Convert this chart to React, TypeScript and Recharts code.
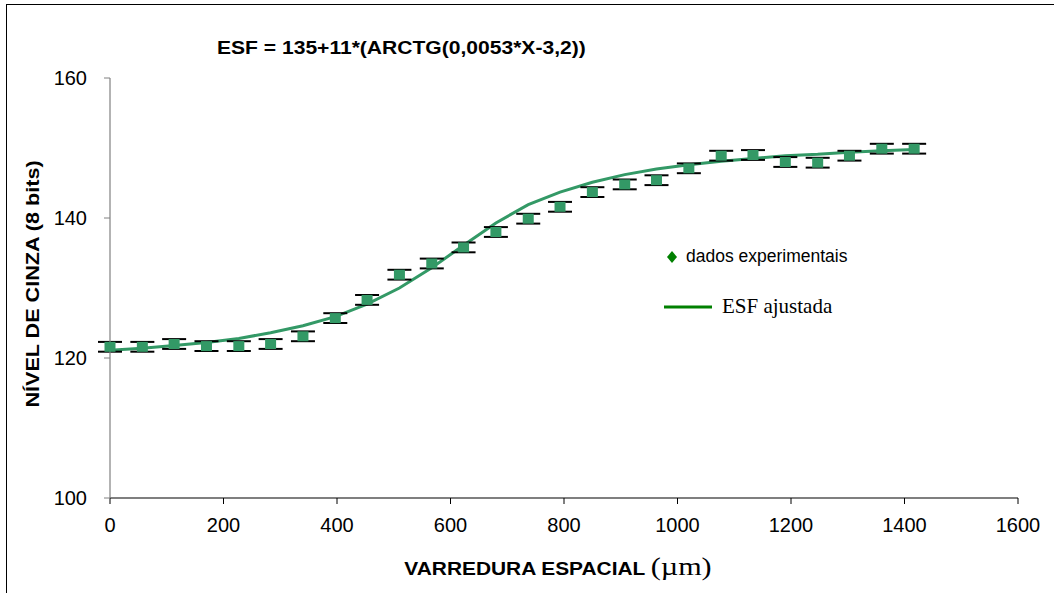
import React from "react";
import {
  ComposedChart,
  Line,
  Scatter,
  ErrorBar,
  XAxis,
  YAxis,
  Legend,
} from "recharts";

// Spatial scan positions (µm)
const positions = [
  0, 57, 113, 170, 227, 283, 340, 397, 453, 510, 567, 623, 680, 737, 793, 850,
  907, 963, 1020, 1077, 1133, 1190, 1247, 1303, 1360, 1417,
];
// Experimental grey levels
const measured = [
  121.6, 121.6, 122.0, 121.7, 121.7, 122.0, 123.1, 125.7, 128.3, 131.9, 133.5,
  135.8, 138.0, 139.9, 141.6, 143.7, 144.8, 145.4, 147.1, 148.9, 149.0, 148.0,
  147.9, 148.9, 149.9, 149.9,
];
// Error bar half-widths
const errors = [
  0.7, 0.7, 0.7, 0.7, 0.7, 0.7, 0.7, 0.7, 0.7, 0.7, 0.7, 0.7, 0.7, 0.7, 0.7,
  0.7, 0.7, 0.7, 0.7, 0.7, 0.7, 0.7, 0.7, 0.7, 0.7, 0.7,
];
// Fitted ESF curve values read at each position
const fitted = [
  121.1, 121.4, 121.8, 122.2, 122.8, 123.6, 124.6, 125.9, 127.7, 130.0, 132.9,
  136.1, 139.3, 141.9, 143.7, 145.1, 146.2, 147.0, 147.6, 148.1, 148.5, 148.9,
  149.1, 149.4, 149.6, 149.8,
];

const xTicks = [0, 200, 400, 600, 800, 1000, 1200, 1400, 1600];
const yTicks = [100, 120, 140, 160];

const titleText = "ESF = 135+11*(ARCTG(0,0053*X-3,2))";
const yTitle = "NÍVEL DE CINZA (8 bits)";
const xTitle = "VARREDURA ESPACIAL";
const xUnit = "(µm)";
const legendData = "dados experimentais";
const legendFit = "ESF ajustada";

const data = positions.map((x, i) => ({
  x,
  y: measured[i],
  err: errors[i],
  fit: fitted[i],
}));

const MARKER = "#339966";
const SANS = "'Liberation Sans', Arial, sans-serif";
const SERIF = "'Liberation Serif', 'Times New Roman', serif";

const SquareShape = (props: any) => {
  const { cx, cy } = props;
  if (cx == null || cy == null) return null;
  return <rect x={cx - 5.5} y={cy - 5} width={11} height={10} fill={MARKER} />;
};

const LegendContent = () => (
  <svg width={240} height={80} style={{ position: "absolute", left: 0, top: 0, overflow: "visible" }}>
    <polygon points="8,0 13,6 8,12 3,6" fill="#008000" transform="translate(0,3)" />
    <text x={22} y={14} fontSize={17.5} fill="#000" fontFamily={SANS}>
      {legendData}
    </text>
    <line x1={0} y1={59} x2={48} y2={59} stroke="#008000" strokeWidth={3} />
    <text x={58} y={65} fontSize={21} fill="#000" fontFamily={SERIF}>
      {legendFit}
    </text>
  </svg>
);

export default function App() {
  return (
    <div
      style={{
        position: "absolute",
        left: 0,
        top: 0,
        width: 1054,
        height: 593,
        overflow: "hidden",
        background: "#fff",
      }}
    >
      <div
        style={{
          position: "absolute",
          left: 6,
          top: 4,
          width: 1200,
          height: 800,
          border: "1.5px solid #000",
        }}
      />
      <div
        style={{
          position: "absolute",
          left: 217,
          top: 38,
          fontFamily: SANS,
          fontWeight: "bold",
          fontSize: 18,
          whiteSpace: "nowrap",
          color: "#000",
          transform: "scaleX(1.17)",
          transformOrigin: "0 0",
        }}
      >
        {titleText}
      </div>
      <div
        style={{
          position: "absolute",
          left: 33,
          top: 284,
          transform: "translate(-50%, -50%) rotate(-90deg) scaleX(1.2)",
          fontFamily: SANS,
          fontWeight: "bold",
          fontSize: 18,
          whiteSpace: "nowrap",
          color: "#000",
        }}
      >
        {yTitle}
      </div>
      <div
        style={{
          position: "absolute",
          left: 558,
          top: 567,
          transform: "translate(-50%, -50%) scaleX(1.16)",
          whiteSpace: "nowrap",
          color: "#000",
        }}
      >
        <span style={{ fontFamily: SANS, fontWeight: "bold", fontSize: 18 }}>{xTitle} </span>
        <span style={{ fontFamily: SERIF, fontSize: 26 }}>{xUnit}</span>
      </div>
      <div style={{ position: "absolute", left: 0, top: 0 }}>
        <ComposedChart
          width={1054}
          height={593}
          data={data}
          margin={{ top: 78, right: 36, bottom: 55, left: 50 }}
        >
          <XAxis
            dataKey="x"
            type="number"
            domain={[0, 1600]}
            ticks={xTicks}
            interval={0}
            height={40}
            axisLine={{ stroke: "#000", strokeWidth: 1.2 }}
            tickLine={{ stroke: "#000" }}
            tickSize={6}
            tickMargin={14}
            tick={{ fill: "#000", fontSize: 20, fontFamily: SANS }}
          />
          <YAxis
            type="number"
            domain={[100, 160]}
            ticks={yTicks}
            interval={0}
            width={60}
            axisLine={{ stroke: "#808080", strokeWidth: 1.2 }}
            tickLine={{ stroke: "#808080" }}
            tickSize={6}
            tickMargin={17}
            tick={{ fill: "#000", fontSize: 20, fontFamily: SANS }}
          />
          <Legend
            content={<LegendContent />}
            wrapperStyle={{ position: "absolute", left: 664, top: 248, width: 0, height: 0, overflow: "visible" }}
          />
          <Line
            dataKey="fit"
            type="linear"
            stroke={MARKER}
            strokeWidth={3}
            dot={false}
            activeDot={false}
            isAnimationActive={false}
          />
          <Scatter dataKey="y" shape={<SquareShape />} isAnimationActive={false}>
            <ErrorBar
              dataKey="err"
              direction="y"
              width={12}
              stroke="#000"
              strokeWidth={2}
              isAnimationActive={false}
            />
          </Scatter>
        </ComposedChart>
      </div>
    </div>
  );
}
